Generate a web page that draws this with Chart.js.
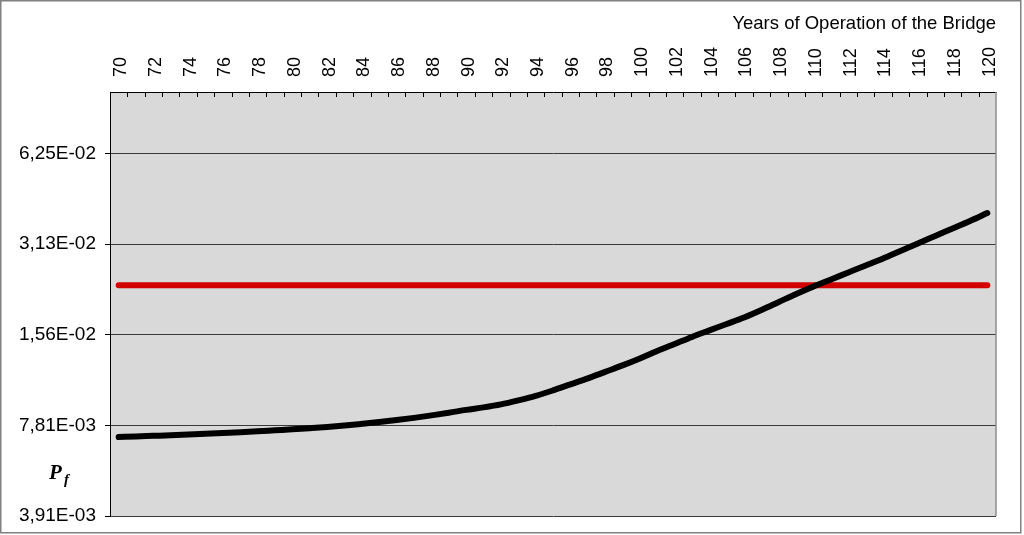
<!DOCTYPE html>
<html>
<head>
<meta charset="utf-8">
<script src="https://cdn.jsdelivr.net/npm/chart.js@4/dist/chart.umd.min.js"></script>
<style>
  html, body { margin: 0; padding: 0; background: #fff; }
  #grafica { display: block; }
</style>
</head>
<body>
<canvas id="grafica" width="1024" height="535"></canvas>
<script>
// Datos
const anios = [70, 71, 72, 73, 74, 75, 76, 77, 78, 79, 80, 81, 82, 83, 84, 85, 86, 87, 88, 89,
    90, 91, 92, 93, 94, 95, 96, 97, 98, 99, 100, 101, 102, 103, 104, 105, 106, 107, 108, 109,
    110, 111, 112, 113, 114, 115, 116, 117, 118, 119, 120];

// Probabilidad de fallo Pf por anio
const probFallo = [0.007145, 0.007177, 0.007210, 0.007243, 0.007282, 0.007321, 0.007366, 0.007411, 0.007462, 0.007520,
    0.007577, 0.007641, 0.007712, 0.007801, 0.007903, 0.008012, 0.008135, 0.008273, 0.008433, 0.008602,
    0.008795, 0.008965, 0.009173, 0.009457, 0.009788, 0.010209, 0.010688, 0.011189, 0.011759, 0.012357,
    0.013037, 0.013806, 0.014564, 0.015364, 0.016147, 0.016969, 0.017834, 0.018885, 0.020077, 0.021341,
    0.022601, 0.023842, 0.025152, 0.026534, 0.027995, 0.029646, 0.031393, 0.033245, 0.035206, 0.037283,
    0.039633];

// Limite objetivo (linea roja)
const pfObjetivo = 0.0228;

// Marcas del eje Y (escala en potencias de 2)
const marcasY = [0.00390625, 0.0078125, 0.015625, 0.03125, 0.0625];
const etiquetasY = ['3,91E-03', '7,81E-03', '1,56E-02', '3,13E-02', '6,25E-02'];

const fuente = "'Liberation Sans', Arial, sans-serif";

// Fondo, marco exterior, marcas interiores y etiqueta Pf
const decoracion = {
    id: 'decoracion',
    beforeDraw(chart) {
        const ctx = chart.ctx;
        const a = chart.chartArea;
        ctx.save();
        ctx.fillStyle = '#ffffff';
        ctx.fillRect(0, 0, chart.width, chart.height);
        ctx.fillStyle = '#d9d9d9';
        ctx.fillRect(a.left, a.top, a.right - a.left, a.bottom - a.top);
        ctx.restore();
    },
    afterDraw(chart) {
        const ctx = chart.ctx;
        const a = chart.chartArea;
        const ejeX = chart.scales.x;
        ctx.save();
        // borde derecho del area
        ctx.strokeStyle = '#8c8c8c';
        ctx.lineWidth = 1.5;
        ctx.beginPath();
        ctx.moveTo(a.right, a.top);
        ctx.lineTo(a.right, a.bottom);
        ctx.stroke();
        // marcas hacia adentro en el eje superior
        ctx.strokeStyle = '#000';
        ctx.lineWidth = 1;
        for (let i = 0; i < anios.length - 1; i++) {
            const x = Math.round((ejeX.getPixelForValue(i) + ejeX.getPixelForValue(i + 1)) / 2) + 0.5;
            ctx.beginPath();
            ctx.moveTo(x, a.top);
            ctx.lineTo(x, a.top + 5);
            ctx.stroke();
        }
        // marco exterior
        ctx.strokeStyle = '#808080';
        ctx.lineWidth = 1.5;
        ctx.strokeRect(0.75, 0.75, 1020, 532);
        // etiqueta Pf
        ctx.fillStyle = '#000';
        ctx.textBaseline = 'alphabetic';
        ctx.font = "italic bold 21px 'Liberation Serif', 'Times New Roman', serif";
        ctx.fillText('P', 49, 479);
        ctx.font = "italic bold 15px 'Liberation Serif', 'Times New Roman', serif";
        ctx.fillText('f', 64, 484);
        ctx.restore();
    }
};

const config = {
    type: 'line',
    data: {
        labels: anios.map(String),
        datasets: [{
            label: 'Pf',
            data: probFallo,
            borderColor: '#000000',
            borderWidth: 6,
            borderCapStyle: 'round',
            borderJoinStyle: 'round',
            pointRadius: 0,
            cubicInterpolationMode: 'monotone',
            fill: false,
            order: 1
        }, {
            label: 'Objetivo',
            data: [{ x: String(anios[0]), y: pfObjetivo }, { x: String(anios[anios.length - 1]), y: pfObjetivo }],
            borderColor: '#d20000',
            borderWidth: 6,
            borderCapStyle: 'round',
            pointRadius: 0,
            fill: false,
            order: 2
        }]
    },
    options: {
        responsive: false,
        animation: false,
        devicePixelRatio: 1,
        layout: { padding: { top: 0, left: 0, right: 28, bottom: 19 } },
        plugins: {
            legend: { display: false },
            tooltip: { enabled: false }
        },
        scales: {
            x: {
                type: 'category',
                position: 'top',
                offset: true,
                grid: { display: true, drawOnChartArea: false, drawTicks: false },
                border: { display: true, color: '#000', width: 1 },
                ticks: {
                    autoSkip: false,
                    maxRotation: 90,
                    minRotation: 90,
                    padding: 15,
                    labelOffset: 24,
                    color: '#000',
                    font: { family: fuente, size: 18 },
                    callback: function (valor, i) {
                        return i % 2 === 0 ? this.getLabelForValue(valor) : '';
                    }
                },
                title: {
                    display: true,
                    text: 'Years of Operation of the Bridge',
                    align: 'end',
                    color: '#000',
                    font: { family: fuente, size: 18.5 },
                    padding: { top: 13, bottom: 0 }
                },
                afterFit: function (eje) { eje.height = 92; }
            },
            y: {
                type: 'logarithmic',
                min: marcasY[0],
                max: 0.1,
                grid: { color: '#3a3a3a', lineWidth: 1, tickLength: 5, tickColor: '#000' },
                border: { display: true, color: '#000', width: 1 },
                afterBuildTicks: function (eje) {
                    eje.ticks = marcasY.map(v => ({ value: v }));
                },
                ticks: {
                    autoSkip: false,
                    padding: 9,
                    color: '#000',
                    font: { family: fuente, size: 19 },
                    callback: function (valor, i) {
                        return etiquetasY[i];
                    }
                },
                afterFit: function (eje) {
                    eje.width = 110;
                    eje.paddingTop = 0;
                    eje.paddingBottom = 0;
                }
            }
        }
    },
    plugins: [decoracion]
};

new Chart(document.getElementById('grafica'), config);
</script>
</body>
</html>
